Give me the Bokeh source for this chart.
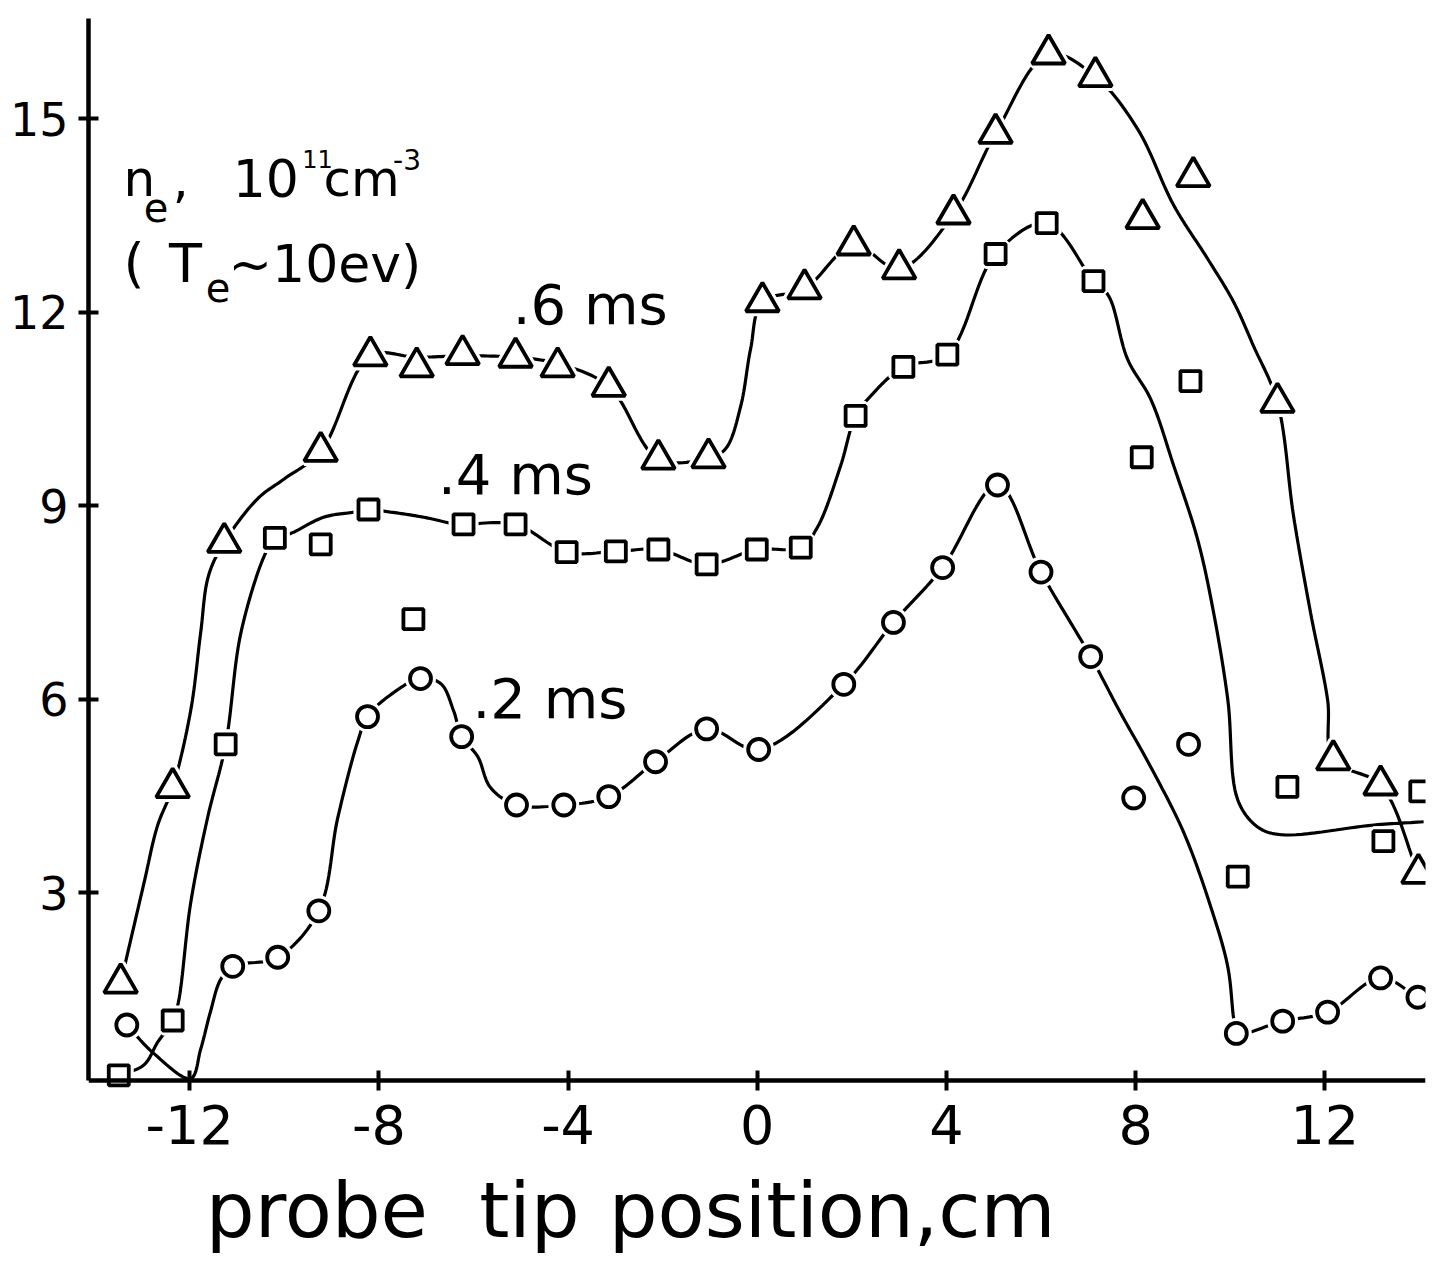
import numpy as np
from bokeh.plotting import figure
from bokeh.models import Label, FixedTicker, Range1d
from bokeh.embed import file_html
from bokeh.resources import INLINE

# ---------------- data ----------------
x_ticks = [-12, -8, -4, 0, 4, 8, 12]
y_ticks = [3, 6, 9, 12, 15]

# 0.6 ms (triangles)
tri_x = [-13.46, -12.36, -11.27, -9.23, -8.18, -7.2, -6.23, -5.11, -4.22, -3.14, -2.09, -1.03,
         0.11, 1.0, 2.04, 3.0, 4.15, 5.04, 6.16, 7.15, 8.15, 9.22, 11.0, 12.18, 13.18, 13.98]
tri_y = [1.6, 4.63, 8.43, 9.84, 11.32, 11.15, 11.34, 11.3, 11.15, 10.85, 9.72, 9.74,
         12.16, 12.36, 13.04, 12.67, 13.52, 14.77, 16.0, 15.65, 13.45, 14.1, 10.6, 5.06, 4.67, 3.3]

# 0.4 ms (squares)
sq_x = [-13.5, -12.36, -11.24, -10.2, -9.23, -8.22, -7.27, -6.21, -5.11, -4.03, -2.99, -2.09, -1.07,
        -0.01, 0.92, 2.08, 3.09, 4.02, 5.04, 6.12, 7.11, 8.13, 9.16, 10.16, 11.21, 13.24, 14.02]
sq_y = [0.17, 1.02, 5.3, 8.5, 8.4, 8.94, 7.24, 8.71, 8.71, 8.28, 8.29, 8.32, 8.09,
        8.32, 8.35, 10.39, 11.15, 11.34, 12.9, 13.38, 12.48, 9.75, 10.93, 3.25, 4.64, 3.8, 4.57]

# 0.2 ms (circles)
circ_x = [-13.33, -11.09, -10.14, -9.27, -8.24, -7.12, -6.25, -5.09, -4.09, -3.14, -2.15, -1.07,
          0.03, 1.83, 2.88, 3.92, 5.08, 6.0, 7.05, 7.96, 9.12, 10.13, 11.11, 12.06, 13.18, 13.97]
circ_y = [0.95, 1.86, 2.0, 2.72, 5.73, 6.32, 5.42, 4.36, 4.36, 4.49, 5.03, 5.54,
          5.22, 6.23, 7.19, 8.04, 9.32, 7.97, 6.66, 4.47, 5.3, 0.82, 1.01, 1.15, 1.68, 1.38]

# hand-drawn fitted curves (knots)
tri_curve_x = [-13.46, -12.97, -12.68, -12.36, -11.98, -11.77, -11.6, -11.27, -10.56, -10.01, -9.23,
               -8.18, -7.2, -6.23, -5.11, -4.22, -3.14, -2.09, -1.03, -0.67, -0.35, -0.14, 0.11,
               1.0, 2.04, 3.0, 4.15, 5.04, 6.16, 7.15, 8.04, 8.81, 9.52, 10.07, 10.49, 11.0,
               11.34, 11.7, 12.06, 12.18, 13.18, 13.98]
tri_curve_y = [1.6, 3.14, 4.04, 4.63, 5.82, 7.02, 7.92, 8.43, 9.11, 9.41, 9.84,
               11.32, 11.3, 11.32, 11.3, 11.2, 10.85, 9.72, 9.74, 9.88, 10.54, 11.43, 12.16,
               12.36, 13.04, 12.67, 13.52, 14.77, 16.0, 15.65, 14.84, 13.65, 12.83, 12.16, 11.48, 10.6,
               8.84, 7.34, 5.99, 5.06, 4.67, 3.3]

sq_curve_x = [-13.5, -12.97, -12.68, -12.36, -12.24, -11.98, -11.62, -11.24, -10.92, -10.43, -10.2,
              -9.86, -9.17, -8.53, -8.22, -7.75, -7.05, -6.42, -6.21, -5.11, -4.03, -2.99, -2.09,
              -1.07, -0.01, 0.92, 1.27, 1.76, 2.08, 2.4, 3.09, 4.02, 5.04, 6.12, 7.11, 7.43, 7.83,
              8.32, 8.81, 9.31, 9.65, 9.95, 10.16, 10.58, 11.07, 13.04, 14.09]
sq_curve_y = [0.17, 0.33, 0.68, 1.02, 1.3, 2.84, 4.17, 5.3, 7.02, 8.21, 8.5,
              8.57, 8.82, 8.9, 8.94, 8.9, 8.82, 8.72, 8.71, 8.71, 8.28, 8.29, 8.32,
              8.09, 8.32, 8.35, 8.66, 9.61, 10.39, 10.7, 11.15, 11.34, 12.9, 13.38, 12.48, 12.25, 11.27,
              10.65, 9.61, 8.48, 7.34, 5.99, 4.44, 4.02, 3.9, 4.05, 4.1]

circ_curve_x = [-13.33, -12.76, -11.98, -11.77, -11.56, -11.35, -11.09, -10.14, -9.27, -8.87, -8.45,
                -8.24, -7.75, -7.12, -6.69, -6.42, -6.25, -5.91, -5.64, -5.09, -4.09, -3.14, -2.15,
                -1.07, 0.03, 1.83, 2.88, 3.92, 5.08, 6.0, 7.05, 7.68, 8.32, 9.02, 9.59, 9.95, 10.07,
                10.13, 11.11, 12.06, 13.18, 13.97]
circ_curve_y = [0.95, 0.51, 0.12, 0.57, 1.16, 1.65, 1.86, 2.0, 2.72, 4.16, 5.34,
                5.73, 6.07, 6.32, 6.24, 5.82, 5.42, 5.11, 4.63, 4.36, 4.36, 4.49, 5.03,
                5.54, 5.22, 6.23, 7.19, 8.04, 9.32, 7.97, 6.66, 5.79, 4.95, 3.93, 2.78, 1.85, 1.07,
                0.82, 1.01, 1.15, 1.68, 1.38]

# ---------------- figure ----------------
X0, X1 = -14.14, 14.13
Y_AX, Y1 = 0.09, 16.55          # x-axis sits at Y_AX; top of the y-axis at Y1
W, H = 1432, 1261
BL, BR, BT = 88, 7, 18
AXIS_PX = 1062                  # pixel height from x-axis line to top of frame
SX = (W - BL - BR) / (X1 - X0)
SY = AXIS_PX / (Y1 - Y_AX)
Y0 = Y_AX - (H - BT - AXIS_PX) / SY   # frame continues below the x-axis, for the tick labels


def smooth(xs, ys, n=16):
    """Centripetal Catmull-Rom rendering of a hand-drawn curve through its knots."""
    P = np.column_stack([np.asarray(xs) * SX, np.asarray(ys) * SY])
    P = np.vstack([2 * P[0] - P[1], P, 2 * P[-1] - P[-2]])
    out = [P[1]]
    for i in range(1, len(P) - 2):
        p0, p1, p2, p3 = P[i - 1], P[i], P[i + 1], P[i + 2]
        t0 = 0.0
        t1 = t0 + np.linalg.norm(p1 - p0) ** 0.5
        t2 = t1 + np.linalg.norm(p2 - p1) ** 0.5
        t3 = t2 + np.linalg.norm(p3 - p2) ** 0.5
        for t in np.linspace(t1, t2, n)[1:]:
            a1 = (t1 - t) / (t1 - t0) * p0 + (t - t0) / (t1 - t0) * p1
            a2 = (t2 - t) / (t2 - t1) * p1 + (t - t1) / (t2 - t1) * p2
            a3 = (t3 - t) / (t3 - t2) * p2 + (t - t2) / (t3 - t2) * p3
            b1 = (t2 - t) / (t2 - t0) * a1 + (t - t0) / (t2 - t0) * a2
            b2 = (t3 - t) / (t3 - t1) * a2 + (t - t1) / (t3 - t1) * a3
            c = (t2 - t) / (t2 - t1) * b1 + (t - t1) / (t2 - t1) * b2
            out.append(c)
    out = np.array(out)
    return out[:, 0] / SX, out[:, 1] / SY


p = figure(width=W, height=H, x_range=Range1d(X0, X1), y_range=Range1d(Y0, Y1),
           output_backend="svg", toolbar_location=None,
           min_border_left=BL, min_border_right=BR, min_border_top=BT, min_border_bottom=0)
p.xgrid.visible = False
p.ygrid.visible = False
p.outline_line_color = None
p.background_fill_color = "white"
p.border_fill_color = "white"

for ax in (p.xaxis[0], p.yaxis[0]):
    ax.axis_line_width = 4.5
    ax.axis_line_color = "black"
    ax.major_tick_line_width = 4
    ax.major_tick_line_color = "black"
    ax.major_tick_in = 10
    ax.major_tick_out = 10
    ax.minor_tick_line_color = None
    ax.major_label_text_font = "DejaVu Sans"
    ax.major_label_text_color = "black"

p.xaxis.ticker = FixedTicker(ticks=x_ticks)
p.yaxis.ticker = FixedTicker(ticks=y_ticks)
p.xaxis.major_label_overrides = {t: str(t) for t in x_ticks}
p.xaxis.major_label_text_font_size = "54px"
p.xaxis.major_label_standoff = 14
p.xaxis.fixed_location = Y_AX
p.yaxis.bounds = (Y_AX, Y1)
p.yaxis.major_label_text_font_size = "46px"
p.yaxis.major_label_standoff = 10

# curves
for cx, cy in ((tri_curve_x, tri_curve_y), (sq_curve_x, sq_curve_y), (circ_curve_x, circ_curve_y)):
    sx, sy = smooth(cx, cy)
    p.line(sx, sy, line_color="black", line_width=3.2)

# white halos (gaps between curve and markers), then the open markers
p.scatter(tri_x, tri_y, marker="triangle", size=33, fill_color="white", line_color="white", line_width=10)
p.scatter(sq_x, sq_y, marker="square", size=20, fill_color="white", line_color="white", line_width=10)
p.scatter(circ_x, circ_y, marker="circle", size=21, fill_color="white", line_color="white", line_width=10)
p.scatter(tri_x, tri_y, marker="triangle", size=33, fill_color="white", line_color="black", line_width=3.8)
p.scatter(sq_x, sq_y, marker="square", size=20, fill_color="white", line_color="black", line_width=3.8)
p.scatter(circ_x, circ_y, marker="circle", size=21, fill_color="white", line_color="black", line_width=3.8)


def lab(x, y, t, size, align="left"):
    # y is the text baseline; Label is anchored at the middle of its text box
    px = float(size.replace("px", ""))
    p.add_layout(Label(x=x, y=y + 0.345 * px / SY, text=t, text_font="DejaVu Sans", text_font_size=size,
                       text_color="black", text_align=align, text_baseline="middle"))


# y-axis title
lab(-13.40, 13.80, "n", "50px")
lab(-12.97, 13.42, "e", "40px")
lab(-12.36, 13.80, ",", "50px")
lab(-11.09, 13.80, "10", "52px")
lab(-9.62, 14.25, "11", "24px")
lab(-9.17, 13.80, "cm", "50px")
lab(-7.70, 14.22, "-3", "28px")
lab(-13.40, 12.47, "(", "54px")
lab(-12.44, 12.47, "T", "54px")
lab(-11.66, 12.17, "e", "40px")
lab(-11.18, 12.47, "~10ev)", "52px")

# series labels
lab(-5.17, 11.82, ".6 ms", "56px")
lab(-6.75, 9.18, ".4 ms", "56px")
lab(-6.02, 5.71, ".2 ms", "56px")

# x-axis title (words spaced like the hand lettering)
lab(-11.66, -2.34, "probe", "77px")
lab(-5.88, -2.34, "tip", "77px")
lab(-3.14, -2.34, "position,cm", "77px")

open("out.html", "w").write(file_html(p, INLINE))
